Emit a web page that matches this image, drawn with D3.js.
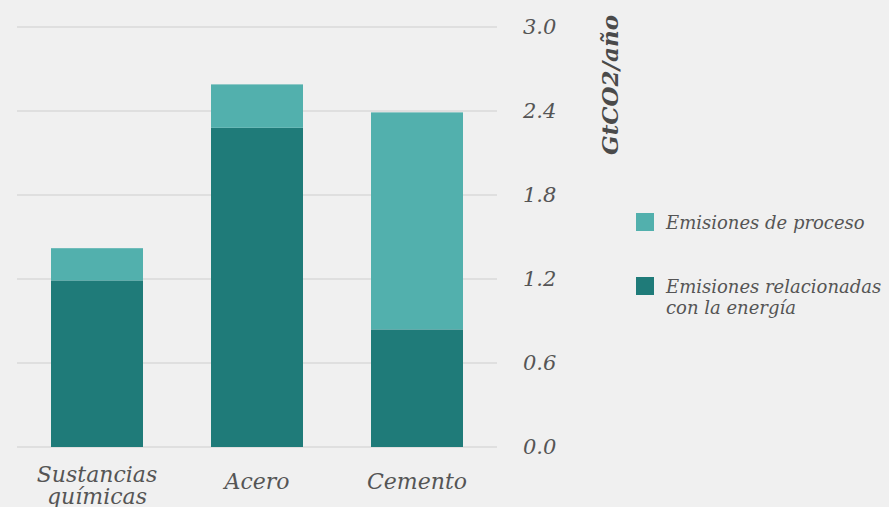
<!DOCTYPE html>
<html>
<head>
<meta charset="utf-8">
<script src="https://cdn.jsdelivr.net/npm/d3@7"></script>
<style>
  html, body { margin: 0; padding: 0; background: #f0f0f0; }
  svg { display: block; font-family: "DejaVu Serif", serif; font-style: italic; }
  .tick text { fill: #555; }
</style>
</head>
<body>
<div id="chart"></div>
<script>
"use strict";

// categories (line-broken labels)
var categories = ["Sustancias químicas", "Acero", "Cemento"];
var catLines = [["Sustancias", "químicas"], ["Acero"], ["Cemento"]];
// GtCO2/año
var energia = [1.19, 2.28, 0.84];
var proceso = [0.23, 0.31, 1.55];
var yTicks = [0.0, 0.6, 1.2, 1.8, 2.4, 3.0];
var seriesNames = ["Emisiones de proceso", "Emisiones relacionadas con la energía"];

var W = 889, H = 507;
var colDark = "#1f7b79", colLight = "#52b0ad";

var svg = d3.select("#chart").append("svg")
    .attr("width", W).attr("height", H);

var x = d3.scaleBand()
    .domain(categories)
    .range([17, 497])
    .paddingInner(0.425)
    .paddingOuter(0.2125);

var y = d3.scaleLinear()
    .domain([0, 3])
    .range([447, 27]);

// gridlines
svg.append("g").selectAll("line")
    .data(yTicks)
    .enter().append("line")
    .attr("x1", 17).attr("x2", 497)
    .attr("y1", function(d) { return y(d); })
    .attr("y2", function(d) { return y(d); })
    .attr("stroke", "#dadada")
    .attr("stroke-width", 1.5);

// stacked data
var rows = categories.map(function(c, i) {
  return { cat: c, energia: energia[i], proceso: proceso[i] };
});
var stack = d3.stack().keys(["energia", "proceso"])(rows);
var colors = { energia: colDark, proceso: colLight };

svg.append("g").selectAll("g")
    .data(stack)
    .enter().append("g")
    .attr("fill", function(d) { return colors[d.key]; })
    .selectAll("rect")
    .data(function(d) { return d; })
    .enter().append("rect")
    .attr("x", function(d) { return x(d.data.cat); })
    .attr("width", x.bandwidth())
    .attr("y", function(d) { return y(d[1]); })
    .attr("height", function(d) { return y(d[0]) - y(d[1]); });

// y axis on the right
var yAxis = svg.append("g")
    .attr("transform", "translate(523,0)")
    .call(d3.axisRight(y).tickValues(yTicks).tickFormat(d3.format(".1f")).tickSize(0).tickPadding(0));
yAxis.select(".domain").remove();
yAxis.selectAll("text")
    .style("font-family", "DejaVu Serif, serif")
    .style("font-style", "italic")
    .style("font-size", "21px")
    .attr("fill", "#555");

// y title
svg.append("text")
    .attr("transform", "translate(618,85) rotate(-90)")
    .attr("text-anchor", "middle")
    .style("font-size", "23px")
    .style("font-weight", "bold")
    .attr("fill", "#4a4a4a")
    .text("GtCO2/año");

// x labels
var xl = svg.append("g").selectAll("text")
    .data(categories)
    .enter().append("text")
    .attr("text-anchor", "middle")
    .attr("x", function(d) { return x(d) + x.bandwidth() / 2; })
    .attr("y", function(d, i) { return catLines[i].length > 1 ? 482 : 489; })
    .style("font-size", "22px")
    .attr("fill", "#555");
xl.each(function(d, i) {
  var t = d3.select(this);
  catLines[i].forEach(function(line, k) {
    t.append("tspan")
      .attr("x", x(d) + x.bandwidth() / 2)
      .attr("dy", k === 0 ? 0 : 22)
      .text(line);
  });
});

// legend
var legend = [
  { lines: ["Emisiones de proceso"], color: colLight, y: 213 },
  { lines: ["Emisiones relacionadas", "con la energía"], color: colDark, y: 277 }
];
var lg = svg.append("g").selectAll("g")
    .data(legend)
    .enter().append("g")
    .attr("transform", function(d) { return "translate(636," + d.y + ")"; });
lg.append("rect")
    .attr("width", 18).attr("height", 18)
    .attr("fill", function(d) { return d.color; });
lg.append("text")
    .attr("x", 30)
    .attr("y", 16)
    .style("font-size", "18px")
    .attr("fill", "#555")
    .each(function(d) {
      var t = d3.select(this);
      d.lines.forEach(function(line, k) {
        t.append("tspan").attr("x", 30).attr("dy", k === 0 ? 0 : 21).text(line);
      });
    });
</script>
</body>
</html>
